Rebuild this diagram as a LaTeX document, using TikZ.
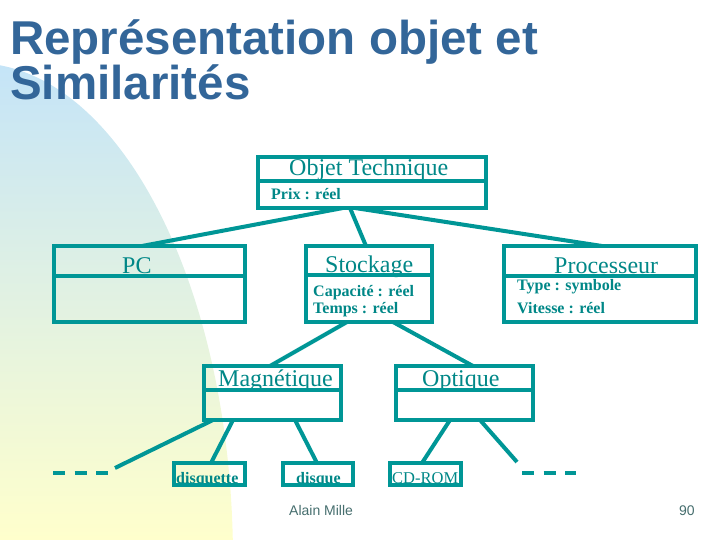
\documentclass[tikz,border=0pt]{standalone}
\usepackage{fontspec}
\setmainfont{Liberation Serif}
\newfontfamily\titlefont{Liberation Sans}
\usetikzlibrary{calc}
\definecolor{teallc}{RGB}{0,150,150}
\definecolor{tealtx}{RGB}{0,135,135}
\definecolor{titleblue}{RGB}{51,102,153}
\definecolor{footgray}{RGB}{70,110,110}
\definecolor{bgblue}{RGB}{196,228,248}
\definecolor{bgmid}{RGB}{222,242,228}
\definecolor{bgyellow}{RGB}{255,255,204}
\begin{document}
\begin{tikzpicture}[x=1pt,y=-1pt,
  classbox/.style={draw=teallc, line width=3.5pt, inner sep=0pt, outer sep=0pt},
  divider/.style={draw=teallc, line width=3.5pt},
  link/.style={draw=teallc, line width=4pt},
  bigtxt/.style={text=tealtx, anchor=base west, inner sep=0pt, font=\fontsize{24}{24}\selectfont},
  attr/.style={text=tealtx, anchor=base west, inner sep=0pt, font=\fontsize{16}{16}\selectfont\bfseries},
  smalltxt/.style={text=tealtx, anchor=base west, inner sep=0pt, font=\fontsize{16.5}{16.5}\selectfont},
  titletxt/.style={text=titleblue, anchor=base west, inner sep=0pt, align=left, font=\titlefont\bfseries\fontsize{47.5}{38}\selectfont},
  foot/.style={text=footgray, anchor=base west, inner sep=0pt, font=\titlefont\fontsize{14}{14}\selectfont},
  more/.style={draw=teallc, line width=4pt, dash pattern=on 12pt off 9.5pt}]
\useasboundingbox (0,0) rectangle (720,540);
% background
\begin{scope}
  \clip (-25,560) ellipse [x radius=258, y radius=497];
  \shade[top color=bgblue, middle color=bgmid, bottom color=bgyellow] (0,60) rectangle (260,540);
\end{scope}
% title (base anchor = baseline of the last line)
\node[titletxt] (title) at (10,100) {Représentation objet et\\Similarités};
% texts
\node[bigtxt] (lot) at (289,176) {Objet Technique};
\node[attr] (aot) at (271,200) {Prix : réel};
\node[bigtxt] (lpc) at (122,273) {PC};
\node[bigtxt] (lst) at (325,272) {Stockage};
\node[attr] (ast1) at (313,296) {Capacité : réel};
\node[attr] (ast2) at (313,313) {Temps : réel};
\node[bigtxt] (lpr) at (554,273) {Processeur};
\node[attr] (apr1) at (517,290) {Type : symbole};
\node[attr] (apr2) at (517,313) {Vitesse : réel};
\node[bigtxt] (lmag) at (218,386) {Magnétique};
\node[bigtxt] (lopt) at (422,386) {Optique};
\node[attr] (ldsq) at (176,483) {disquette};
\node[attr] (ldsk) at (296,483) {disque};
\node[smalltxt] (lcd) at (392,483) {CD-ROM};
% boxes
\node[classbox, minimum width=228pt, minimum height=51pt] (ot) at (372,182.5) {};
\node[classbox, minimum width=191pt, minimum height=76pt] (pc) at (149.5,284) {};
\node[classbox, minimum width=126pt, minimum height=76pt] (st) at (369,284) {};
\node[classbox, minimum width=192pt, minimum height=76pt] (pr) at (600,284) {};
\node[classbox, minimum width=137pt, minimum height=54pt] (mag) at (272.5,393) {};
\node[classbox, minimum width=137pt, minimum height=54pt] (opt) at (464.5,393) {};
\node[classbox, minimum width=71pt, minimum height=22pt] (dsq) at (209.5,474) {};
\node[classbox, minimum width=70pt, minimum height=22pt] (dsk) at (318,474) {};
\node[classbox, minimum width=71pt, minimum height=22pt] (cd) at (425.5,474) {};
% dividers
\draw[divider] ($(ot.north west)+(0,24)$) -- ($(ot.north east)+(0,24)$);
\draw[divider] ($(pc.north west)+(0,30)$) -- ($(pc.north east)+(0,30)$);
\draw[divider] ($(st.north west)+(0,29)$) -- ($(st.north east)+(0,29)$);
\draw[divider] ($(pr.north west)+(0,30)$) -- ($(pr.north east)+(0,30)$);
\draw[divider] ($(mag.north west)+(0,24)$) -- ($(mag.north east)+(0,24)$);
\draw[divider] ($(opt.north west)+(0,24)$) -- ($(opt.north east)+(0,24)$);
% connectors
\draw[link] ($(ot.south west)+(85,0)$) -- ($(pc.north west)+(88,0)$);
\draw[link] ($(ot.south west)+(92,0)$) -- ($(st.north west)+(60,0)$);
\draw[link] ($(ot.south west)+(97,0)$) -- ($(pr.north west)+(98,0)$);
\draw[link] ($(st.south west)+(41,0)$) -- ($(mag.north west)+(66,0)$);
\draw[link] ($(st.south west)+(87,0)$) -- ($(opt.north west)+(77,0)$);
\coordinate (endl) at (115,468);
\coordinate (endr) at (517,462);
\draw[link] ($(mag.south west)+(9,0)$) -- (endl);
\draw[link] ($(mag.south west)+(29,0)$) -- ($(dsq.north west)+(37,0)$);
\draw[link] ($(mag.south west)+(91,0)$) -- ($(dsk.north west)+(34,0)$);
\draw[link] ($(opt.south west)+(54,0)$) -- ($(cd.north west)+(32,0)$);
\draw[link] ($(opt.south west)+(84,0)$) -- (endr);
\coordinate (dl1) at (53,473);
\coordinate (dl2) at (109,473);
\coordinate (dr1) at (522,473);
\coordinate (dr2) at (576,473);
\draw[more] (dl1) -- (dl2);
\draw[more] (dr1) -- (dr2);
% footer
\node[foot] (author) at (289,515) {Alain Mille};
\node[foot] (page) at (679,515) {90};
\end{tikzpicture}
\end{document}
